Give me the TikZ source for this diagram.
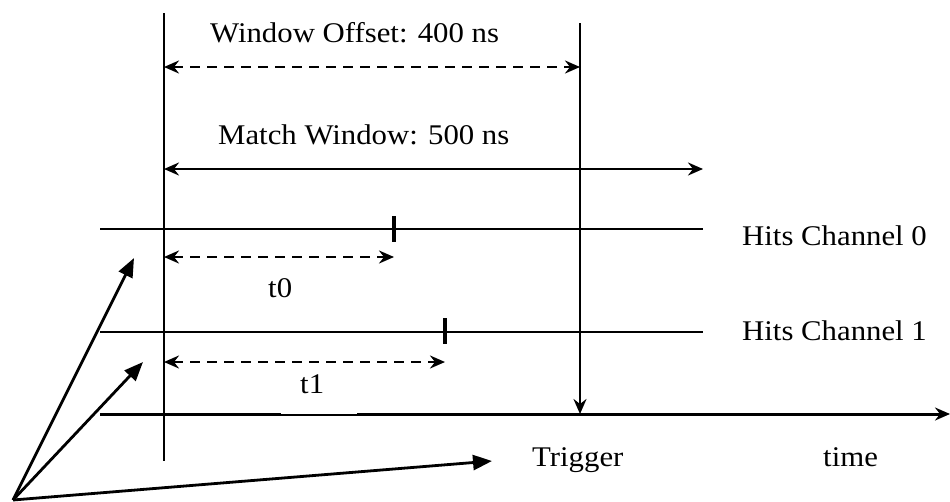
\documentclass[tikz,border=0pt]{standalone}
\usepackage{fontspec}
\setmainfont{Liberation Serif}[FakeStretch=1.08]
\usetikzlibrary{arrows.meta}
\begin{document}
\begin{tikzpicture}[x=1pt,y=-1pt,
  lbl/.style={inner sep=0pt, anchor=base west, font=\fontsize{28.5}{34}\selectfont},
  tipr/.style={-{Stealth[length=15pt,width=13pt,inset=5pt]}},
  dtip/.style={{Stealth[length=15pt,width=13pt,inset=5pt]}-{Stealth[length=15pt,width=13pt,inset=5pt]}},
  dashline/.style={dash pattern=on 10pt off 7pt},
  bigtip/.style={-{Triangle[length=19pt,width=15pt]}},
  thinl/.style={line width=2pt},
  medl/.style={line width=2.6pt},
  thickl/.style={line width=3.4pt}
]
\useasboundingbox (0,0) rectangle (950,501);
% coordinates
\coordinate (Ltop) at (164,13);
\coordinate (Lbot) at (164,461);
\coordinate (Ttop) at (580,23);
\coordinate (Tbot) at (580,414);
\coordinate (WOa) at (164,67);
\coordinate (WOb) at (580,67);
\coordinate (MWa) at (164,169);
\coordinate (MWb) at (703,169);
\coordinate (H0a) at (100,229);
\coordinate (H0b) at (703,229);
\coordinate (k0t) at (394,216);
\coordinate (k0b) at (394,242);
\coordinate (t0a) at (164,257);
\coordinate (t0b) at (394,257);
\coordinate (H1a) at (100,332);
\coordinate (H1b) at (703,332);
\coordinate (k1t) at (445,318);
\coordinate (k1b) at (445,344);
\coordinate (t1a) at (164,362);
\coordinate (t1b) at (445,362);
\coordinate (Axa) at (100,414);
\coordinate (Axb) at (950,414);
\coordinate (O) at (13,500);
\coordinate (P1) at (134,258);
\coordinate (P2) at (143,362);
\coordinate (P3) at (492,461);
% lines
\draw[medl] (Ltop) -- (Lbot);
\draw[thinl] (H0a) -- (H0b);
\draw[thinl] (H1a) -- (H1b);
\draw[thickl] (k0t) -- (k0b);
\draw[thickl] (k1t) -- (k1b);
\draw[line width=3pt, tipr] (Axa) -- (Axb);
\fill[white] (281,411.8) rectangle (357,414);
\draw[medl, tipr] (Ttop) -- (Tbot);
\draw[medl, dtip, dashline] (WOa) -- (WOb);
\draw[medl, dtip] (MWa) -- (MWb);
\draw[medl, dtip, dashline] (t0a) -- (t0b);
\draw[medl, dtip, dashline] (t1a) -- (t1b);
\draw[line width=2.8pt, bigtip] (O) -- (P1);
\draw[line width=2.8pt, bigtip] (O) -- (P2);
\draw[line width=2.8pt, bigtip] (O) -- (P3);
% labels
\node[lbl] (wo) at (210,42) {Window Offset: 400 ns};
\node[lbl] (mw) at (218,144) {Match Window: 500 ns};
\node[lbl] (t0) at (268,297) {t0};
\node[lbl] (t1) at (300,393) {t1};
\node[lbl] (hc0) at (742,245) {Hits Channel 0};
\node[lbl] (hc1) at (742,340) {Hits Channel 1};
\node[lbl] (trig) at (532,466) {Trigger};
\node[lbl] (tm) at (823,466) {time};
\end{tikzpicture}
\end{document}
